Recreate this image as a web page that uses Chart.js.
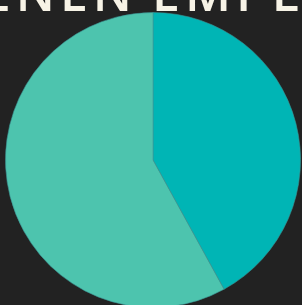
<!DOCTYPE html>
<html>
<head>
<meta charset="utf-8">
<script src="https://cdn.jsdelivr.net/npm/chart.js@4"></script>
<style>
  html, body { margin: 0; padding: 0; background: #222222; overflow: hidden; }
  #wrap { position: relative; width: 302px; height: 312px; }
</style>
</head>
<body>
<div id="wrap"><canvas id="chart"></canvas></div>
<script>
const labels = ["Employees", "Others"];
const values = [42, 58];
const colors = ["#00b5b5", "#4dc4ae"];
const titleLeft = "RENEN";
const titleRight = "EMPLOYEES";

// big title that runs off the top edge, split around the centre gap
const titlePlugin = {
  id: "cutTitle",
  afterDraw(chart) {
    const ctx = chart.ctx;
    ctx.save();
    ctx.fillStyle = "#f7f3e6";
    ctx.font = "600 50px 'Open Sans'";
    ctx.letterSpacing = "5px";
    ctx.textBaseline = "alphabetic";
    ctx.textAlign = "right";
    ctx.fillText(titleLeft, 137, 11);
    ctx.textAlign = "left";
    ctx.fillText(titleRight, 152, 11);
    ctx.restore();
  }
};

new Chart(document.getElementById("chart"), {
  type: "pie",
  data: {
    labels: labels,
    datasets: [{
      data: values,
      backgroundColor: colors,
      borderColor: "rgba(60,150,150,0.6)",
      borderWidth: 1
    }]
  },
  options: {
    responsive: true,
    maintainAspectRatio: false,
    animation: false,
    layout: { padding: { top: 12, bottom: 4, left: 5, right: 1 } },
    plugins: { legend: { display: false }, tooltip: { enabled: false } }
  },
  plugins: [titlePlugin]
});
</script>
</body>
</html>
